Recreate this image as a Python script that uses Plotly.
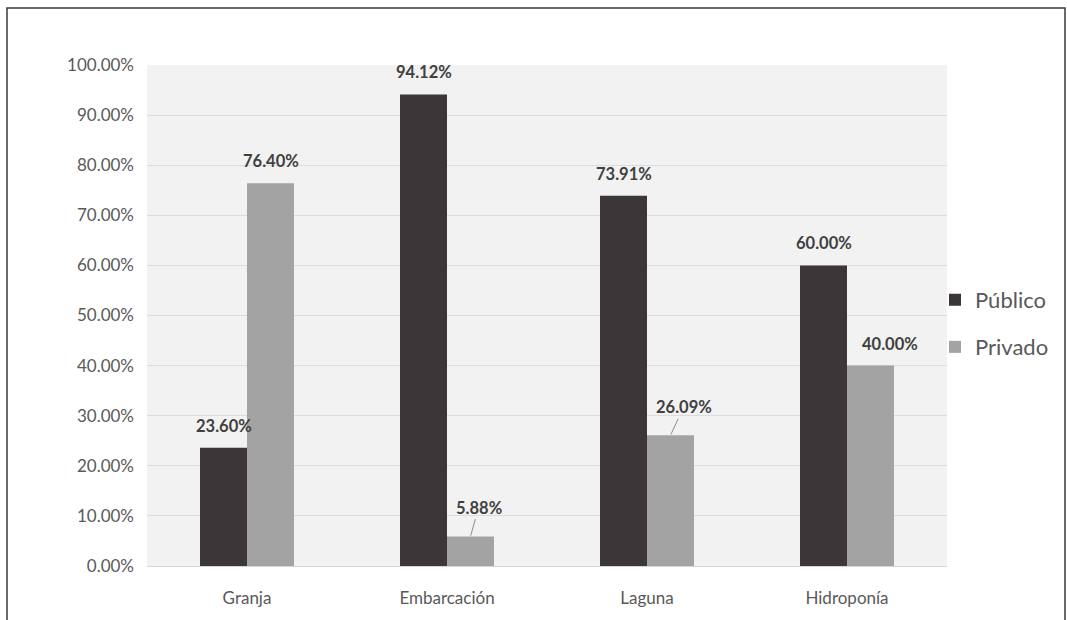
import plotly.graph_objects as go

# Share of public vs private ownership per production type
categorias = ["Granja", "Embarcación", "Laguna", "Hidroponía"]
publico = [0.2360, 0.9412, 0.7391, 0.6000]
privado = [0.7640, 0.0588, 0.2609, 0.4000]

COLOR_PUB = "#3b3738"
COLOR_PRIV = "#a3a3a3"
TEXT_GRAY = "#595959"
LABEL_GRAY = "#404040"
FONT = "Lato, 'Open Sans', sans-serif"
LABEL_FONT = dict(family=FONT, size=16.5, color=LABEL_GRAY, weight="bold")

fig = go.Figure()
fig.add_trace(go.Bar(x=categorias, y=publico, name="Público",
                     marker=dict(color=COLOR_PUB, line=dict(width=0)),
                     showlegend=True, legend="legend"))
fig.add_trace(go.Bar(x=categorias, y=privado, name="Privado",
                     marker=dict(color=COLOR_PRIV, line=dict(width=0)),
                     showlegend=True, legend="legend2"))

# Data labels; some private labels are nudged sideways, two with a leader line
BAR_HALF = 23.5
leader = {1: (8, -29), 2: (13, -28)}
nudge = {3: 19}
annotations = []
for i, cat in enumerate(categorias):
    annotations.append(dict(
        x=cat, y=publico[i], xref="x", yref="y",
        text=f"{publico[i]*100:.2f}%", showarrow=False,
        xshift=-BAR_HALF, yshift=22, yanchor="middle", font=LABEL_FONT))
    if i in leader:
        ax, ay = leader[i]
        annotations.append(dict(
            x=cat, y=privado[i], xref="x", yref="y",
            text=f"{privado[i]*100:.2f}%", showarrow=True,
            arrowhead=0, arrowwidth=1, arrowcolor="#8c8c8c",
            ax=ax, ay=ay, xshift=BAR_HALF, standoff=1, font=LABEL_FONT))
    else:
        annotations.append(dict(
            x=cat, y=privado[i], xref="x", yref="y",
            text=f"{privado[i]*100:.2f}%", showarrow=False,
            xshift=BAR_HALF + nudge.get(i, 0), yshift=22, yanchor="middle",
            font=LABEL_FONT))

legend_style = dict(font=dict(family=FONT, size=22, color=TEXT_GRAY),
                    bgcolor="rgba(0,0,0,0)", xanchor="left", yanchor="middle",
                    itemclick=False)

fig.update_layout(
    width=1067, height=620,
    margin=dict(l=147, r=120, t=65, b=54, autoexpand=False),
    paper_bgcolor="white",
    plot_bgcolor="#f2f2f2",
    barmode="group",
    bargap=0.53,
    bargroupgap=0,
    showlegend=True,
    font=dict(family=FONT, color=TEXT_GRAY),
    legend=dict(x=0.985, y=0.531, **legend_style),
    legend2=dict(x=0.985, y=0.437, **legend_style),
    xaxis=dict(showgrid=False, ticks="", showline=False, zeroline=False,
               tickfont=dict(size=17, color=TEXT_GRAY), ticklabelstandoff=20),
    yaxis=dict(range=[0, 1], dtick=0.1, tickformat=".2%",
               showgrid=True, gridcolor="#dcdcdc", gridwidth=1,
               zeroline=True, zerolinecolor="#d6d6d6", zerolinewidth=1,
               showline=False, ticks="",
               tickfont=dict(size=17, color=TEXT_GRAY), ticklabelstandoff=12),
    annotations=annotations,
    shapes=[dict(type="rect", xref="paper", yref="paper",
                 x0=-0.175, x1=1.1475, y0=-0.2, y1=1.1138,
                 line=dict(color="#3a3a3a", width=1.5), layer="below")],
)

fig.write_html("out.html")
